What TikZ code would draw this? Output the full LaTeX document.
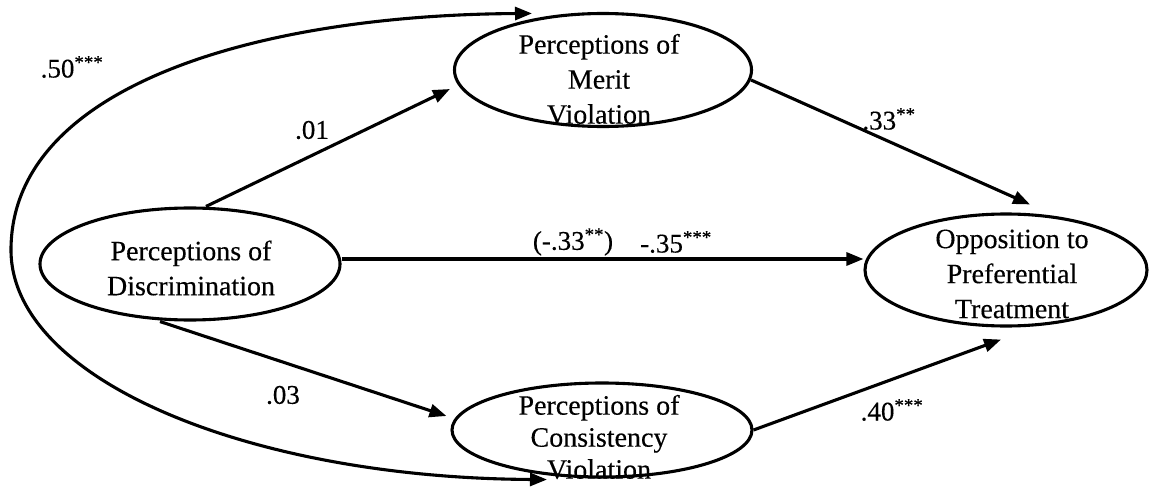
\documentclass[tikz,border=0pt]{standalone}
\usepackage{fontspec}
\setmainfont{Liberation Serif}
\newfontfamily\scanfont{Liberation Serif}[FakeBold=0.3]
\usetikzlibrary{shapes.geometric,arrows.meta,calc}
\begin{document}
\begin{tikzpicture}[x=1pt,y=-1pt,
  ell/.style={draw, ellipse, line width=3.1pt, inner sep=0pt},
  txt/.style={align=center, font=\scanfont\fontsize{28}{35}\selectfont, inner sep=0pt},
  lbl/.style={font=\scanfont\fontsize{27}{32}\selectfont, inner sep=0pt},
  tip/.style={-{Triangle[length=17pt,width=13pt]}},
  arr/.style={line width=3.1pt, tip},
  dbl/.style={line width=3.1pt, {Triangle[length=17pt,width=13pt]}-{Triangle[length=17pt,width=13pt]}}]
\useasboundingbox (0,0) rectangle (1163,487);

% ellipses
\node[ell, minimum width=300pt, minimum height=112pt] (d) at (190,264) {};
\node[txt] (dtx) at (191,268) {Perceptions of\\Discrimination};

\node[ell, minimum width=297pt, minimum height=113pt] (m) at (603,70) {};
\node[txt] (mtx) at (599,79) {Perceptions of\\Merit\\Violation};

\node[ell, minimum width=282pt, minimum height=112pt] (o) at (1006,270) {};
\node[txt] (otx) at (1012,274) {Opposition to\\Preferential\\Treatment};

\node[ell, minimum width=300pt, minimum height=94pt] (c) at (602,430) {};
\node[txt, font=\scanfont\fontsize{28}{32}\selectfont] (ctx) at (599,437) {Perceptions of\\Consistency\\Violation};

% connectors
\coordinate (hs) at ($(d.east)+(0,-5)$);
\draw[arr] ($(d.north)+(16,0)$) -- ($(m.west)+(-3,19)$);
\draw[arr] (hs) -- (hs -| o.west);
\draw[arr] ($(m.east)+(-2,10)$) -- ($(o.north)+(24,-8)$);
\draw[arr] ($(d.south)+(-30,0)$) -- ($(c.west)+(-4,-14)$);
\draw[arr] (c.east) -- ($(o.south)+(-5,12)$);

\coordinate (ctop) at ($(m.north)+(-71,1.5)$);
\coordinate (cbot) at ($(c.south)+(-55,1)$);
\draw[dbl] (ctop) .. controls (260,15) and (11,85) .. (11,250)
  .. controls (11,380) and (250,478) .. (cbot);

% labels
\node[lbl] (l50) at (72,67) {.50\textsuperscript{***}};
\node[lbl] (l01) at (312,130) {.01};
\node[lbl] (l33) at (889,119) {.33\textsuperscript{**}};
\node[lbl] (l33b) at (573,242) {(-.33\textsuperscript{**})};
\node[lbl] (l35) at (676,242) {-.35\textsuperscript{***}};
\node[lbl] (l03) at (283,395) {.03};
\node[lbl] (l40) at (892,410) {.40\textsuperscript{***}};
\end{tikzpicture}
\end{document}
